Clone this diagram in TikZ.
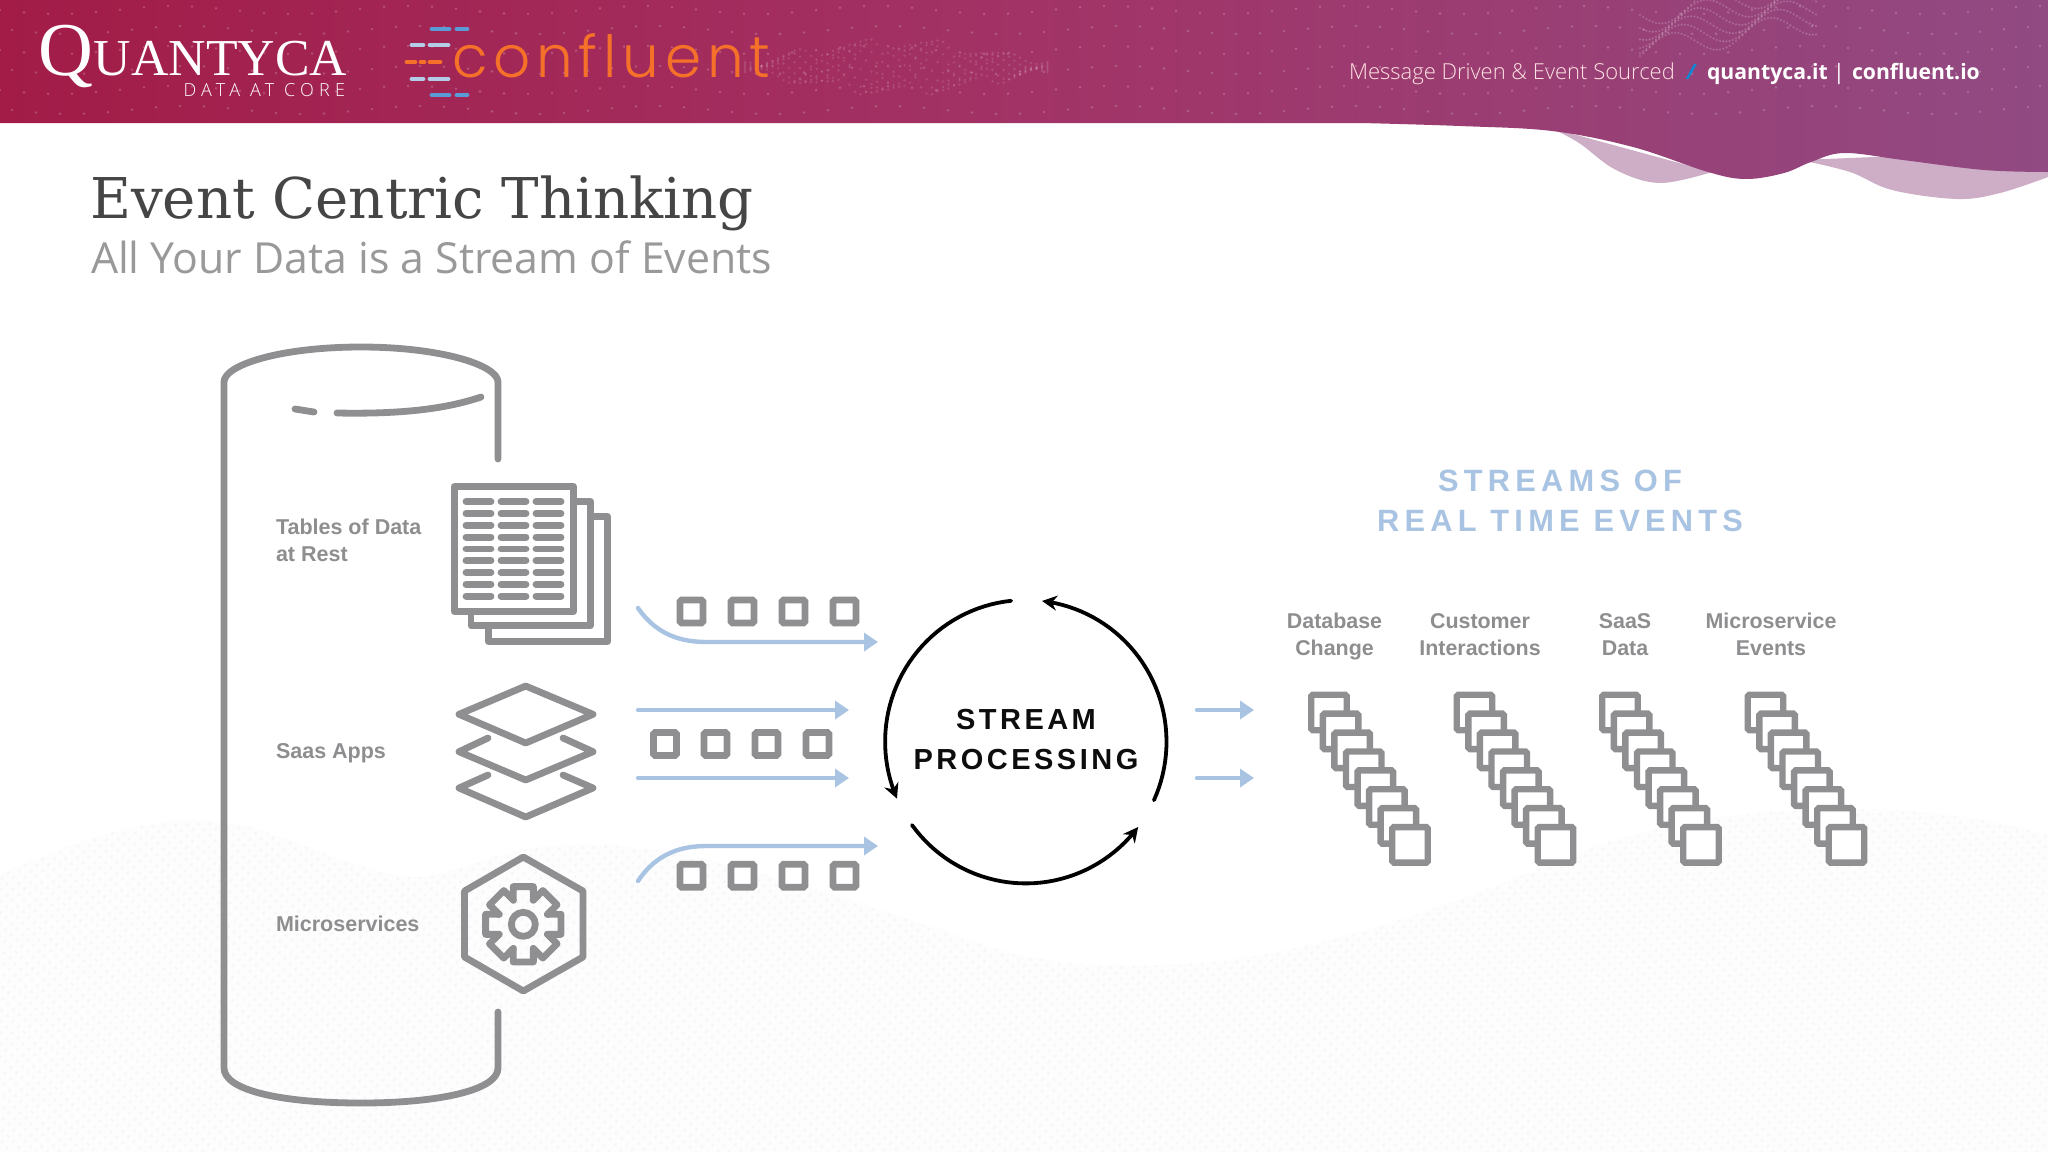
\documentclass[tikz,border=0pt]{standalone}
\usepackage{fontspec}
\usetikzlibrary{arrows.meta,patterns.meta}
\setmainfont{Liberation Sans}
\newfontfamily\slabf{DejaVu Serif}
\newfontfamily\openf{Open Sans}
\newfontfamily\openl{Open Sans Light}
\newfontfamily\logof{Liberation Serif}
\newfontfamily\conf{Poppins Light}[LetterSpace=10]
\newfontfamily\spcA{Liberation Sans}[LetterSpace=12]
\newfontfamily\spcB{Liberation Sans}[LetterSpace=17]
\newfontfamily\spcC{Open Sans Light}[LetterSpace=29]
\definecolor{iconc}{HTML}{8F8F91}
\definecolor{labc}{HTML}{8E8E90}
\definecolor{flow}{HTML}{A9C4E3}
\definecolor{hdA}{HTML}{A21C47}
\definecolor{hdB}{HTML}{A23366}
\definecolor{hdC}{HTML}{914A82}
\definecolor{pale}{HTML}{CDAEC6}
\definecolor{cblue}{HTML}{5B9BD5}
\definecolor{clight}{HTML}{B3CDE8}
\definecolor{corange}{HTML}{F5712A}
\tikzset{
  x=0.5pt,y=-0.5pt,
  txt/.style={inner sep=0pt,outer sep=0pt},
  lab/.style={txt,text=labc,font=\fontsize{10.7}{13.5}\selectfont\bfseries,align=center},
  labl/.style={txt,text=labc,font=\fontsize{10.75}{13.5}\selectfont\bfseries,align=left,anchor=west},
  icon/.style={draw=iconc,line width=3.4pt,line join=round,line cap=round},
  rowbar/.style={draw=iconc,line width=3.4pt,line cap=round},
  smallsq/.style={draw=iconc,fill=white,line width=3.3pt,minimum size=11.5pt,inner sep=0pt,rounded corners=.8pt},
  evsq/.style={draw=iconc,fill=white,line width=3.2pt,minimum size=17.75pt,inner sep=0pt,rounded corners=.8pt},
  flowline/.style={draw=flow,line width=2.2pt,line cap=round,-{Triangle[length=7pt,width=9pt]}},
  loopline/.style={draw=black,line width=1.9pt,line cap=round,-{Stealth[length=7.5pt,width=7.5pt]}},
  hdot/.style={fill=white,fill opacity=.2,draw=none},
  bdot/.style={fill=white,fill opacity=.13,draw=none},
}
\begin{document}
\begin{tikzpicture}
\useasboundingbox (0,0) rectangle (2048,1152);
\fill[white] (0,0) rectangle (2048,1152);
% bottom wave
\def\wavepath{(0,875) .. controls (60,847) and (130,820) .. (200,820) .. controls (270,822) and (320,860) .. (400,876) .. controls (450,884) and (480,850) .. (560,845) .. controls (680,838) and (820,890) .. (1000,950) .. controls (1060,968) and (1180,975) .. (1300,947) .. controls (1400,925) and (1500,885) .. (1578,853) .. controls (1660,820) and (1780,805) .. (1890,810) .. controls (1960,813) and (2010,825) .. (2048,835) -- (2048,1152) -- (0,1152) -- cycle}
\fill[fill=black!0.8] \wavepath;
\fill[pattern={Dots[distance=4pt,radius=.75pt,angle=45]},pattern color=black!3.5] \wavepath;
% header back layer
\fill[pale] plot[smooth,tension=.6] coordinates {(1551,128) (1579,143) (1616,170) (1660,183) (1712,172)} -- cycle;
\fill[pale] plot[smooth,tension=.6] coordinates {(1800,160) (1850,172) (1892,190) (1957,199) (2000,193) (2048,177)} -- (2048,150) -- cycle;
% header
\shade[left color=hdA,right color=hdC,middle color=hdB]
  (0,0) -- (2048,0) -- plot[smooth,tension=.6] coordinates {(2048,172) (1984,170) (1903,160) (1844,153) (1811,162) (1784,173) (1746,179) (1708,172) (1633,147) (1552,131) (1460,126) (1362,123)} -- (0,123) -- cycle;
\begin{scope}
\clip (0,0) rectangle (2048,120);
\foreach \r in {0,1,2,3,4,5}{
  \foreach \c in {0,...,85}{
    \fill[hdot] ({\c*24+mod(\r,2)*12},{10+\r*20+4*sin(\c*37)}) circle (1.4);
  }
}
\foreach \r in {0,1,2,3,4,5}{
  \foreach \c in {0,...,55}{
    \fill[bdot] ({745+\c*5.5},{62+24*sin(\c*3.27)*sin(\c*28+\r*45)+\r*2}) circle (1.3);
    \fill[hdot] ({1640+\c*3.2},{15+\r*7+12*sin(\c*12+\r*30)-\c*.5}) circle (1.2);
  }
}
\end{scope}
% logos
\node[txt,anchor=base west,text=white,font=\logof] (quant) at (39,75) {\fontsize{38}{38}\selectfont Q\fontsize{25.9}{25}\selectfont UANTYCA};
\node[txt,anchor=base east,text=white,font=\spcC\fontsize{9}{10}\selectfont] (core) at (345,96) {DATA AT CORE};
\node[txt,anchor=base west,text=corange,font=\conf\fontsize{29}{30}\selectfont] (confl) at (452,77) {confluent};
\foreach \ya/\xa/\xb/\xc/\xd/\colr in {29/432/449/457/467/cblue,45/412/423/430/448/clight,79/412/423/430/448/clight,95/432/449/457/467/cblue}{
  \draw[\colr,line width=2.4pt,line cap=round] (\xa,\ya) -- (\xb,\ya);
  \draw[\colr,line width=2.4pt,line cap=round] (\xc,\ya) -- (\xd,\ya);
}
\draw[corange,line width=2.4pt,line cap=round] (407,62) -- (415,62) (421,62) -- (424,62) (430,62) -- (440,62);
% header text
\node[txt,anchor=base west,text=pink!45!white,font=\openl\fontsize{11}{12}\selectfont] (msg) at (1349,79) {Message Driven \& Event Sourced};
\node[txt,anchor=base,text=cyan!70!blue,font=\openf\bfseries\itshape\fontsize{10.6}{12}\selectfont] (sl) at (1691,79) {/};
\node[txt,anchor=base west,text=white,font=\openf\bfseries\fontsize{10.6}{12}\selectfont] (q1) at (1707,79) {quantyca.it};
\node[txt,anchor=base,text=white,font=\openf\fontsize{10.6}{12}\selectfont] (bar) at (1839,79) {|};
\node[txt,anchor=base west,text=white,font=\openf\bfseries\fontsize{10.6}{12}\selectfont] (q2) at (1852,79) {confluent.io};
% titles
\node[txt,anchor=base west,text=black!73,font=\slabf\fontsize{28.1}{30}\selectfont] (title) at (90,218) {Event Centric Thinking};
\node[txt,anchor=base west,text=black!40,font=\openf\fontsize{21.4}{24}\selectfont] (sub) at (91,273) {All Your Data is a Stream of Events};
% cylinder
\draw[icon] (498,459) -- (498,382) .. controls (498,365) and (440,347) .. (361,347) .. controls (280,347) and (224,365) .. (224,382) -- (224,1068) .. controls (224,1090) and (280,1103) .. (361,1103) .. controls (440,1103) and (498,1090) .. (498,1068) -- (498,1012);
\draw[icon] (295,409) -- (314,412);
\draw[icon] (337,413) .. controls (390,414) and (440,411) .. (481,397);
% labels left
\node[labl] (l1) at (276,540.5) {Tables of Data\\at Rest};
\node[labl] (l2) at (276,753) {Saas Apps};
\node[labl] (l3) at (276,924) {Microservices};
% document icon
\draw[icon] (577,501.5) -- (590.5,501.5) -- (590.5,625.5) -- (471,625.5) -- (471,615);
\draw[icon] (594,516.5) -- (607.5,516.5) -- (607.5,641.5) -- (488.5,641.5) -- (488.5,629);
\draw[icon,fill=white] (454.5,486.5) rectangle (573.5,611.5);
\foreach \i in {0,...,8}{
  \draw[rowbar] (466,{501.7+\i*11.8}) -- (491,{501.7+\i*11.8});
  \draw[rowbar] (501,{501.7+\i*11.8}) -- (526,{501.7+\i*11.8});
  \draw[rowbar] (536,{501.7+\i*11.8}) -- (561,{501.7+\i*11.8});
}
% layers
\draw[icon] (525.7,686) -- (593,714.3) -- (525.7,743) -- (459,714.3) -- cycle;
\draw[icon] (488,738) -- (459,751.7) -- (525.7,780) -- (593,751.7) -- (563,738);
\draw[icon] (488,775) -- (459,788) -- (525.7,817) -- (593,788) -- (563,775);
% hexagon and gear
\draw[icon] (523.3,857) -- (583,891) -- (583,957) -- (523.3,991) -- (464.5,957) -- (464.5,891) -- cycle;
\begin{scope}[shift={(523.3,924.3)}]
\draw[icon] (-22.5:26) \foreach \a in {0,45,...,315}{ -- ({\a-15}:39) -- ({\a+15}:39) -- ({\a+22.5}:26)} -- cycle;
\draw[icon] (0,0) circle (12);
\end{scope}
% flow coordinates and arrows
\coordinate (fa1) at (638,608);
\coordinate (fa2) at (878,642);
\coordinate (fb1) at (638,710);
\coordinate (fb2) at (849,710);
\coordinate (fc1) at (638,778);
\coordinate (fc2) at (849,778);
\coordinate (fd1) at (638,881);
\coordinate (fd2) at (878,846);
\coordinate (ra1) at (1197,710);
\coordinate (ra2) at (1254,710);
\coordinate (rb1) at (1197,778);
\coordinate (rb2) at (1254,778);
\draw[flowline] (fa1) .. controls (660,640) and (690,642) .. (708,642) -- (fa2);
\draw[flowline] (fb1) -- (fb2);
\draw[flowline] (fc1) -- (fc2);
\draw[flowline] (fd1) .. controls (660,848) and (690,846) .. (708,846) -- (fd2);
\draw[flowline] (ra1) -- (ra2);
\draw[flowline] (rb1) -- (rb2);
% small event squares
\foreach \x [count=\i] in {691.5,742.5,793.5,844.5}{
  \node[smallsq] (top\i) at (\x,611.5) {};
  \node[smallsq] (bot\i) at (\x,875.7) {};
}
\foreach \x [count=\i] in {665,715.5,766.5,817.5}{
  \node[smallsq] (mid\i) at (\x,744) {};
}
% stream processing loop
\draw[loopline] plot[domain=96:203.7,samples=40] ({1025.8+140.7*cos(\x)},{741.7-141.7*sin(\x)});
\draw[loopline] plot[domain=216:323,samples=40] ({1025.8+140.7*cos(\x)},{741.7-141.7*sin(\x)});
\draw[loopline] plot[domain=-24.4:83.4,samples=40] ({1025.8+140.7*cos(\x)},{741.7-141.7*sin(\x)});
\node[txt,text=black!95,font=\spcA\bfseries\fontsize{14.5}{20}\selectfont,align=center] (sp) at (1026,739) {STREAM\\PROCESSING};
% streams heading
\node[txt,text=flow,font=\spcB\bfseries\fontsize{15.4}{20}\selectfont,align=center] (sh) at (1560,501) {STREAMS OF\\REAL TIME EVENTS};
% stream labels
\node[lab] (c1) at (1334.5,636.5) {Database\\Change};
\node[lab] (c2) at (1480,636.5) {Customer\\Interactions\vphantom{g}};
\node[lab] (c3) at (1625,636.5) {SaaS\\Data\vphantom{g}};
\node[lab] (c4) at (1771,636.5) {Microservice\\Events\vphantom{g}};
% event stacks
\foreach \cx [count=\k] in {0,145.5,291,436.5}{
  \foreach \i in {0,...,7}{
    \node[evsq] (st\k-\i) at ({1329+\cx+\i*11.57},{712.5+\i*18.9}) {};
  }
}
\end{tikzpicture}
\end{document}
